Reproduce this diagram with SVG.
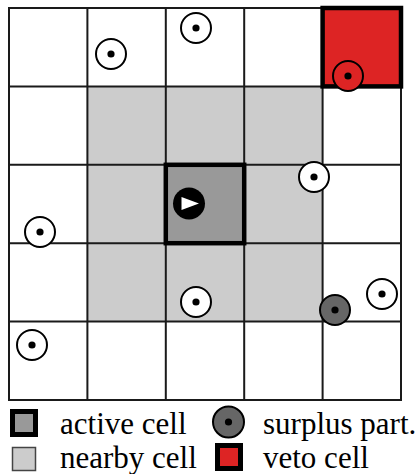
<svg xmlns="http://www.w3.org/2000/svg" width="420" height="474" viewBox="0 0 420 474">
<style>
.grid{stroke:#1a1a1a;stroke-width:2;fill:none}
.nearby{fill:#cccccc}
.thick{stroke:#000;stroke-width:4.5}
.p{fill:#fff;stroke:#000;stroke-width:2}
.dot{fill:#000}
</style>
<defs>
<g id="part"><circle class="p" r="15"/><circle class="dot" r="3.6"/></g>
</defs>
<rect width="420" height="474" fill="#fff"/>
<g id="cells">
<rect class="nearby" x="87.4" y="86.4" width="235.2" height="235.2"/>
<rect id="veto-cell" x="322.6" y="8" width="78.4" height="78.4" fill="#dd2424"/>
<rect id="active-cell" x="165.8" y="164.8" width="78.4" height="78.4" fill="#999999"/>
</g>
<g id="grid" class="grid">
<rect x="9" y="8" width="392" height="392"/>
<path d="M87.4 8V400M165.8 8V400M244.2 8V400M322.6 8V400M9 86.4H401M9 164.8H401M9 243.2H401M9 321.6H401"/>
</g>
<g id="borders" fill="none">
<rect class="thick" x="165.8" y="164.8" width="78.4" height="78.4"/>
<rect class="thick" x="322.6" y="8" width="78.4" height="78.4"/>
</g>
<g id="particles">
<use href="#part" x="111" y="54"/>
<use href="#part" x="196" y="28"/>
<use href="#part" x="314" y="177"/>
<use href="#part" x="40" y="232"/>
<use href="#part" x="196" y="302"/>
<use href="#part" x="32" y="345"/>
<use href="#part" x="382" y="294"/>
<g id="veto-particle"><circle cx="348" cy="76" r="15" fill="#dd2424" stroke="#000" stroke-width="2"/><circle class="dot" cx="348" cy="76" r="3.6"/></g>
<g id="surplus-particle"><circle cx="335" cy="310" r="15" fill="#666666" stroke="#000" stroke-width="2"/><circle class="dot" cx="335" cy="310" r="3.6"/></g>
<g id="active-particle"><circle cx="189" cy="203.5" r="16" fill="#000"/><path d="M181.5 197L199 203.5L181.5 210Z" fill="#fff"/></g>
</g>
<g id="legend" font-family="'Liberation Serif', 'DejaVu Serif', serif" font-size="31" fill="#000">
<g id="leg-active"><rect x="12.5" y="411.5" width="23" height="23" fill="#999999" stroke="#000" stroke-width="5"/><text x="60" y="434">active cell</text></g>
<g id="leg-nearby"><rect x="12.5" y="447.5" width="23" height="23" fill="#cccccc" stroke="#444" stroke-width="1.5"/><text x="60" y="468">nearby cell</text></g>
<g id="leg-surplus"><circle cx="228.5" cy="422" r="15.5" fill="#666666" stroke="#000" stroke-width="2"/><circle class="dot" cx="228.5" cy="422" r="3.6"/><text x="263" y="434">surplus part.</text></g>
<g id="leg-veto"><rect x="217.5" y="445.5" width="23" height="23" fill="#dd2424" stroke="#000" stroke-width="5"/><text x="263" y="468">veto cell</text></g>
</g>
</svg>
